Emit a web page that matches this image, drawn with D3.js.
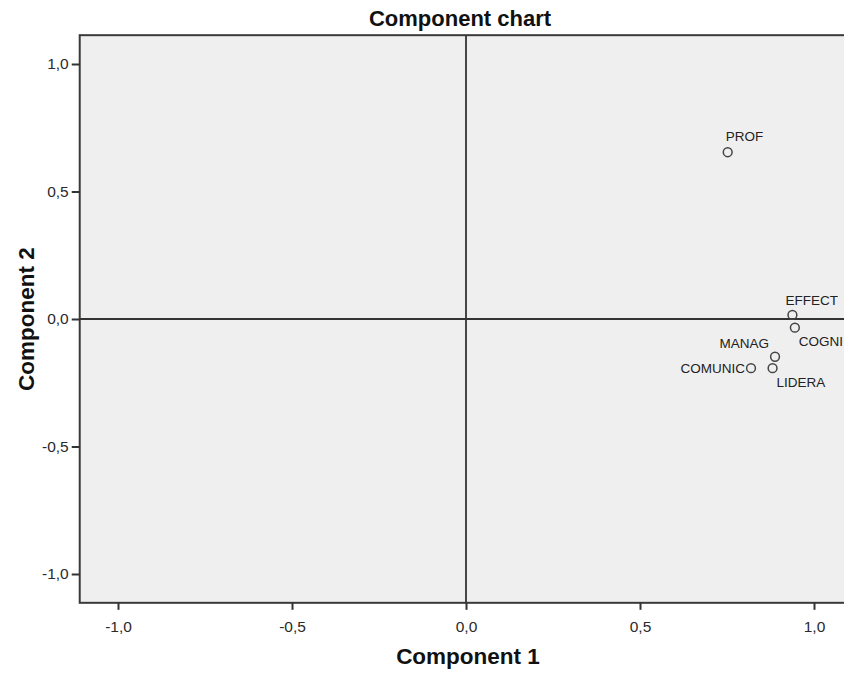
<!DOCTYPE html>
<html><head><meta charset="utf-8">
<script src="https://cdn.jsdelivr.net/npm/d3@7"></script>
<style>body{margin:0;background:#fff;} svg{display:block;font-family:"Liberation Sans",Arial,sans-serif;}</style>
</head><body>
<svg id="c" width="844" height="673"></svg>
<script>
const names = ["PROF","EFFECT","COGNI","MANAG","LIDERA","COMUNIC"];
const comp1 = [0.752, 0.938, 0.945, 0.888, 0.881, 0.819];
const comp2 = [0.654, 0.016, -0.034, -0.148, -0.193, -0.193];
const labelPos = ["above","aboveC","belowRight","aboveLeft","belowRight2","left"];
const tickVals = [-1.0, -0.5, 0.0, 0.5, 1.0];

const svg = d3.select("#c");
const x = d3.scaleLinear().domain([-1, 1]).range([118, 814]);
const y = d3.scaleLinear().domain([-1, 1]).range([574, 64]);
const xMin = -1.11, xMax = 1.2, yMin = -1.113, yMax = 1.113;
const fmt = d => d3.format(".1f")(d).replace(".", ",").replace("−","-");

svg.append("rect").attr("x", x(xMin)).attr("y", y(yMax))
  .attr("width", x(xMax) - x(xMin)).attr("height", y(yMin) - y(yMax))
  .attr("fill", "#efefef").attr("stroke", "#3a3a3a").attr("stroke-width", 2);

// zero lines
svg.append("line").attr("x1", x(xMin)).attr("x2", x(xMax)).attr("y1", y(0)).attr("y2", y(0))
  .attr("stroke", "#333").attr("stroke-width", 1.8);
svg.append("line").attr("x1", x(0)).attr("x2", x(0)).attr("y1", y(yMax)).attr("y2", y(yMin))
  .attr("stroke", "#333").attr("stroke-width", 1.8);

// axes
const xAxis = d3.axisBottom(x).tickValues(tickVals).tickFormat(fmt).tickSize(7).tickPadding(11);
const gx = svg.append("g").attr("transform", `translate(0,${y(yMin)})`).call(xAxis);
gx.select(".domain").remove();
gx.selectAll("line").attr("stroke", "#333").attr("stroke-width", 2);
gx.selectAll("text").attr("font-size", 15.5).attr("fill", "#2a2a2a").attr("font-family", "Liberation Sans, Arial, sans-serif");

const yAxis = d3.axisLeft(y).tickValues(tickVals).tickFormat(fmt).tickSize(8).tickPadding(3);
const gy = svg.append("g").attr("transform", `translate(${x(xMin)},0)`).call(yAxis);
gy.select(".domain").remove();
gy.selectAll("line").attr("stroke", "#333").attr("stroke-width", 2);
gy.selectAll("text").attr("font-size", 15.5).attr("fill", "#2a2a2a").attr("font-family", "Liberation Sans, Arial, sans-serif");

// points
const data = names.map((n, i) => ({n, a: comp1[i], b: comp2[i], p: labelPos[i]}));
svg.selectAll("circle.pt").data(data).join("circle").attr("class", "pt")
  .attr("cx", d => x(d.a)).attr("cy", d => y(d.b)).attr("r", 4.4)
  .attr("fill", "none").attr("stroke", "#444").attr("stroke-width", 1.5);

const off = {
  above: [-2, -11.5, "start"],
  aboveC: [-7, -10, "start"],
  belowRight: [4, 18.5, "start"],
  aboveLeft: [-6, -8.5, "end"],
  belowRight2: [4, 19, "start"],
  left: [-6, 4.5, "end"]
};
svg.selectAll("text.lab").data(data).join("text").attr("class", "lab")
  .attr("x", d => x(d.a) + off[d.p][0])
  .attr("y", d => y(d.b) + off[d.p][1])
  .attr("text-anchor", d => off[d.p][2])
  .attr("font-size", 13.5).attr("fill", "#222")
  .text(d => d.n);

// titles
svg.append("text").attr("x", 460).attr("y", 26).attr("text-anchor", "middle")
  .attr("font-size", 22).attr("font-weight", "bold").attr("fill", "#111").text("Component chart");
svg.append("text").attr("x", 468).attr("y", 664).attr("text-anchor", "middle")
  .attr("font-size", 22.5).attr("font-weight", "bold").attr("fill", "#111").text("Component 1");
svg.append("text").attr("transform", `translate(34,${y(0)}) rotate(-90)`).attr("text-anchor", "middle")
  .attr("font-size", 22.5).attr("font-weight", "bold").attr("fill", "#111").text("Component 2");
</script>
</body></html>
